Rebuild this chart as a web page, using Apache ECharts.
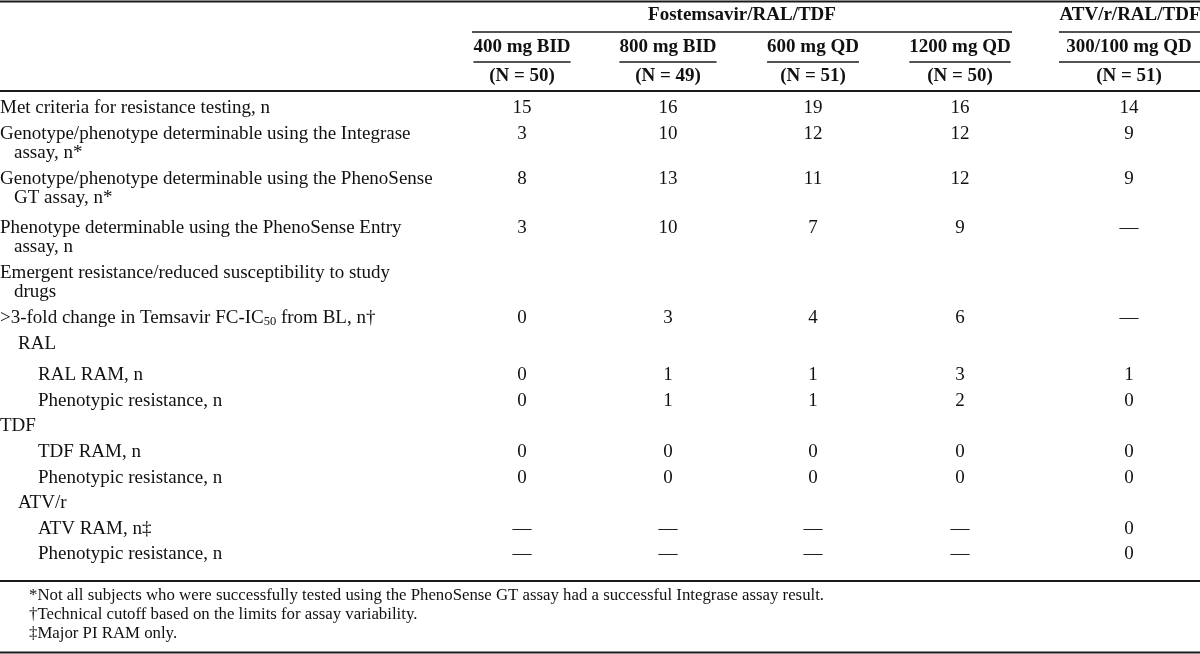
<!DOCTYPE html>
<html><head><meta charset="utf-8">
<script src="https://cdn.jsdelivr.net/npm/echarts@6/dist/echarts.min.js"></script>
<style>html,body{margin:0;padding:0;background:#fff}#chart{width:1200px;height:654px}</style>
</head><body><div id="chart"></div>
<script>
// ---------- data ----------
const groupHeaders = ["Fostemsavir/RAL/TDF", "ATV/r/RAL/TDF"];
const doseLabels = ["400 mg BID", "800 mg BID", "600 mg QD", "1200 mg QD", "300/100 mg QD"];
const nLabels = ["(N = 50)", "(N = 49)", "(N = 51)", "(N = 50)", "(N = 51)"];
const rowLabels = [
  ["Met criteria for resistance testing, n"],
  ["Genotype/phenotype determinable using the Integrase", "assay, n*"],
  ["Genotype/phenotype determinable using the PhenoSense", "GT assay, n*"],
  ["Phenotype determinable using the PhenoSense Entry", "assay, n"],
  ["Emergent resistance/reduced susceptibility to study", "drugs"],
  [">3-fold change in Temsavir FC-IC{sub|50} from BL, n\u2020"],
  ["RAL"],
  ["RAL RAM, n"],
  ["Phenotypic resistance, n"],
  ["TDF"],
  ["TDF RAM, n"],
  ["Phenotypic resistance, n"],
  ["ATV/r"],
  ["ATV RAM, n\u2021"],
  ["Phenotypic resistance, n"]
];
const rowLevel = [0, 0, 0, 0, 0, 0, 1, 2, 2, 0, 2, 2, 1, 2, 2];
const fos400BID  = ["15", "3", "8", "3", "", "0", "", "0", "0", "", "0", "0", "", "\u2014", "\u2014"];
const fos800BID  = ["16", "10", "13", "10", "", "3", "", "1", "1", "", "0", "0", "", "\u2014", "\u2014"];
const fos600QD   = ["19", "12", "11", "7", "", "4", "", "1", "1", "", "0", "0", "", "\u2014", "\u2014"];
const fos1200QD  = ["16", "12", "12", "9", "", "6", "", "3", "2", "", "0", "0", "", "\u2014", "\u2014"];
const atv300QD   = ["14", "9", "9", "\u2014", "", "\u2014", "", "1", "0", "", "0", "0", "", "0", "0"];
const footnotes = [
  "*Not all subjects who were successfully tested using the PhenoSense GT assay had a successful Integrase assay result.",
  "\u2020Technical cutoff based on the limits for assay variability.",
  "\u2021Major PI RAM only."
];

// ---------- layout ----------
const FONT = "'Liberation Serif','Times New Roman',serif";
const BODY = 19, HEAD = 19, FOOT = 16.8;
const colX = [522, 668, 813, 960, 1129];
const groupSpan = [[472, 1012], [1059, 1200]];
const groupX = [742, 1130];
const yGroup = 15, yGroupRule = 32, yDose = 47, yDoseRule = 62, yN = 76;
const yTop = 1.5, yHeadRule = 91, yBodyRule = 581, yBottom = 652.5;
const yFirst = 108, rowGap = 25.6, wrapGap = 19.5;
const rowExtraBefore = {3: 4, 7: 6};   // extra vertical space seen in the reference
const indentX = [0, 18, 38], wrapIndent = 14;
const footX = 29, footY = [596, 615, 634];

const columns = [fos400BID, fos800BID, fos600QD, fos1200QD, atv300QD];

const texts = [];   // {x, y, text, size, bold, align}
groupHeaders.forEach((t, i) => texts.push({x: groupX[i], y: yGroup, text: t, size: HEAD, bold: true, align: 'center'}));
doseLabels.forEach((t, i) => texts.push({x: colX[i], y: yDose, text: t, size: HEAD, bold: true, align: 'center'}));
nLabels.forEach((t, i) => texts.push({x: colX[i], y: yN, text: t, size: HEAD, bold: true, align: 'center'}));
let y = yFirst;
rowLabels.forEach((lines, r) => {
  if (rowExtraBefore[r]) y += rowExtraBefore[r];
  lines.forEach((t, k) => {
    texts.push({x: indentX[rowLevel[r]] + (k ? wrapIndent : 0), y: y + k * wrapGap, text: t, size: BODY, align: 'left'});
  });
  columns.forEach((col, c) => {
    if (col[r] !== "") texts.push({x: colX[c], y: y, text: col[r], size: BODY, align: 'center'});
  });
  y += (lines.length - 1) * wrapGap + rowGap;
});
footnotes.forEach((t, i) => texts.push({x: footX, y: footY[i], text: t, size: FOOT, align: 'left'}));

// rules: measure dose header widths for the underlines
const ctx = document.createElement('canvas').getContext('2d');
ctx.font = 'bold ' + HEAD + 'px ' + FONT;
const rules = [
  {x1: 0, x2: 1200, y: yTop, w: 2},
  {x1: groupSpan[0][0], x2: groupSpan[0][1], y: yGroupRule, w: 1.5},
  {x1: groupSpan[1][0], x2: groupSpan[1][1], y: yGroupRule, w: 1.5},
  {x1: 0, x2: 1200, y: yHeadRule, w: 2},
  {x1: 0, x2: 1200, y: yBodyRule, w: 2},
  {x1: 0, x2: 1200, y: yBottom, w: 2}
];
doseLabels.forEach((t, i) => {
  const half = ctx.measureText(t).width / 2;
  if (i === 4) rules.push({x1: groupSpan[1][0], x2: groupSpan[1][1], y: yDoseRule, w: 1.5});
  else rules.push({x1: colX[i] - half, x2: colX[i] + half, y: yDoseRule, w: 1.5});
});

const chart = echarts.init(document.getElementById('chart'), null, {renderer: 'canvas'});
chart.setOption({
  backgroundColor: '#fff',
  animation: false,
  grid: {left: 0, right: 0, top: 0, bottom: 0},
  xAxis: {type: 'value', min: 0, max: 1200, show: false},
  yAxis: {type: 'value', min: 0, max: 654, inverse: true, show: false},
  series: [
    {
      type: 'custom', silent: true,
      data: rules.map(r => [r.x1, r.x2, r.y, r.w]),
      renderItem: (params, api) => {
        const a = api.coord([api.value(0), api.value(2)]);
        const b = api.coord([api.value(1), api.value(2)]);
        return {type: 'line', shape: {x1: a[0], y1: a[1], x2: b[0], y2: b[1]},
                style: {stroke: '#1a1a1a', lineWidth: api.value(3)}};
      }
    },
    {
      type: 'custom', silent: true,
      data: texts.map(t => [t.x, t.y]),
      renderItem: (params, api) => {
        const t = texts[params.dataIndex];
        const p = api.coord([api.value(0), api.value(1)]);
        return {type: 'text', x: p[0], y: p[1], style: {
          text: t.text, fill: '#111', fontFamily: FONT, fontSize: t.size,
          fontWeight: t.bold ? 'bold' : 'normal', align: t.align, verticalAlign: 'middle',
          rich: {sub: {fontSize: 12.5, fontFamily: FONT, fill: '#111', verticalAlign: 'bottom', padding: [7, 0, 0, 0]}}
        }};
      }
    }
  ]
});
</script></body></html>
